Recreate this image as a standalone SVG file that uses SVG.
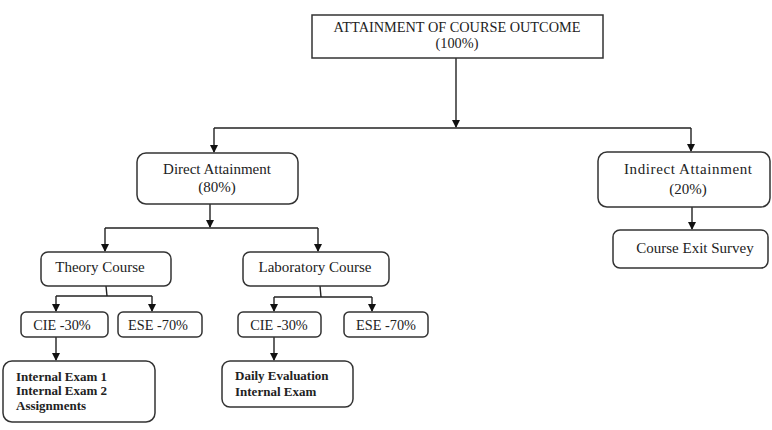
<svg xmlns="http://www.w3.org/2000/svg" width="772" height="430" viewBox="0 0 772 430">
<defs>
<style>
.box{fill:#fff;stroke:#333;stroke-width:1.5}
.ln{fill:none;stroke:#222;stroke-width:1.4}
.t{font-family:"Liberation Serif","Times New Roman",serif;font-size:15px;fill:#222;text-anchor:middle}
.s{font-size:14.3px}
.b{font-family:"Liberation Serif","Times New Roman",serif;font-size:13px;font-weight:bold;fill:#222}
</style>
<marker id="ah" markerWidth="8" markerHeight="8" refX="7" refY="4" orient="auto" markerUnits="userSpaceOnUse">
<path d="M0,0 L8,4 L0,8 Z" fill="#111"/>
</marker>
</defs>
<rect width="772" height="430" fill="#fff"/>
<g id="connectors">
<path class="ln" d="M456,58 V127" marker-end="url(#ah)"/>
<path class="ln" d="M214,128 H691"/>
<path class="ln" d="M214,128 V152" marker-end="url(#ah)"/>
<path class="ln" d="M691,128 V151" marker-end="url(#ah)"/>
<path class="ln" d="M210,204 V227" marker-end="url(#ah)"/>
<path class="ln" d="M105,228 H318"/>
<path class="ln" d="M105,228 V251" marker-end="url(#ah)"/>
<path class="ln" d="M318,228 V251" marker-end="url(#ah)"/>
<path class="ln" d="M106,286 L107,296"/>
<path class="ln" d="M56,296 H152"/>
<path class="ln" d="M56,296 V311" marker-end="url(#ah)"/>
<path class="ln" d="M152,296 V311" marker-end="url(#ah)"/>
<path class="ln" d="M320,286 L321,297"/>
<path class="ln" d="M274,297 H372"/>
<path class="ln" d="M274,297 V311" marker-end="url(#ah)"/>
<path class="ln" d="M372,297 V311" marker-end="url(#ah)"/>
<path class="ln" d="M56,337 V360" marker-end="url(#ah)"/>
<path class="ln" d="M274,337 V360" marker-end="url(#ah)"/>
<path class="ln" d="M692,207 V229" marker-end="url(#ah)"/>
</g>
<g id="root">
<rect class="box" x="312" y="15" width="291" height="43"/>
<text class="t s" x="457" y="32">ATTAINMENT OF COURSE OUTCOME</text>
<text class="t s" x="457" y="48">(100%)</text>
</g>
<g id="direct">
<rect class="box" x="137" y="153" width="161" height="51" rx="9"/>
<text class="t" x="217" y="174">Direct Attainment</text>
<text class="t" x="217" y="192">(80%)</text>
</g>
<g id="indirect">
<rect class="box" x="598" y="152" width="172" height="55" rx="9"/>
<text class="t" x="688" y="174" textLength="128">Indirect Attainment</text>
<text class="t" x="688" y="194">(20%)</text>
</g>
<g id="exit">
<rect class="box" x="613" y="230" width="155" height="38" rx="7"/>
<text class="t" x="695" y="253">Course Exit Survey</text>
</g>
<g id="theory">
<rect class="box" x="41" y="252" width="130" height="34" rx="7"/>
<text class="t" x="100" y="272">Theory Course</text>
</g>
<g id="lab">
<rect class="box" x="243" y="252" width="146" height="34" rx="7"/>
<text class="t" x="315" y="272">Laboratory Course</text>
</g>
<g id="cie-theory">
<rect class="box" x="21" y="312" width="87" height="25" rx="5"/>
<text class="t s" x="62" y="330">CIE -30%</text>
</g>
<g id="ese-theory">
<rect class="box" x="118" y="312" width="84" height="25" rx="5"/>
<text class="t s" x="158" y="330">ESE -70%</text>
</g>
<g id="cie-lab">
<rect class="box" x="238" y="312" width="83" height="25" rx="5"/>
<text class="t s" x="279" y="330">CIE -30%</text>
</g>
<g id="ese-lab">
<rect class="box" x="344" y="312" width="84" height="25" rx="5"/>
<text class="t s" x="386" y="330">ESE -70%</text>
</g>
<g id="theory-cie-items">
<rect class="box" x="3" y="361" width="152" height="61" rx="9"/>
<text class="b" x="16" y="381">Internal Exam 1</text>
<text class="b" x="16" y="395">Internal Exam 2</text>
<text class="b" x="16" y="410">Assignments</text>
</g>
<g id="lab-cie-items">
<rect class="box" x="222" y="361" width="131" height="46" rx="8"/>
<text class="b" x="235" y="380">Daily Evaluation</text>
<text class="b" x="235" y="396">Internal Exam</text>
</g>
</svg>
